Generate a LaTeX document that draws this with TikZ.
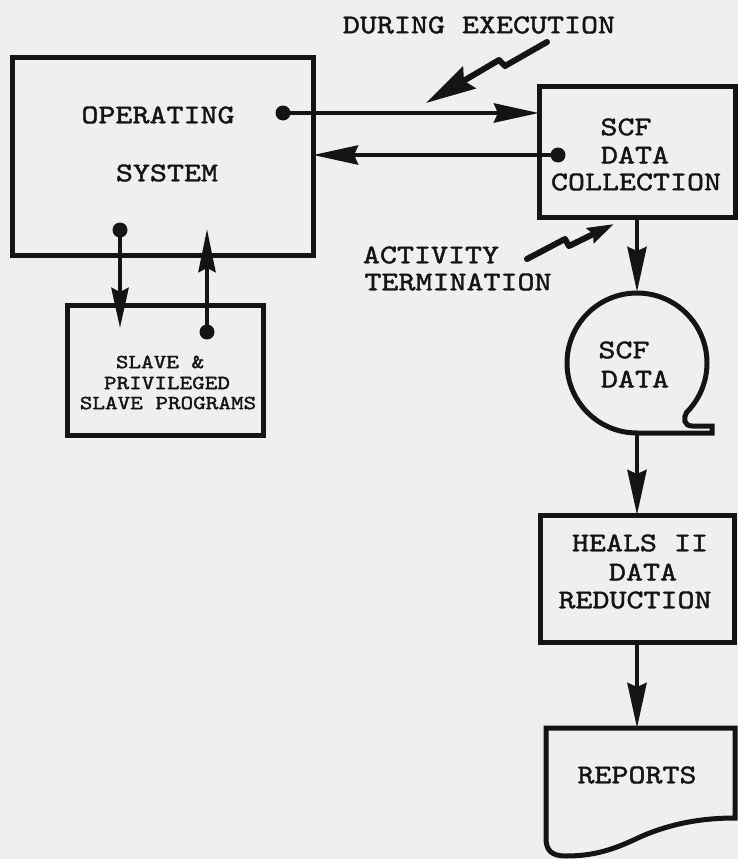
\documentclass[tikz,border=0pt]{standalone}
\usepackage{fontspec}
\setmonofont{lmmono10-regular.otf}[FakeStretch=1.2, FakeBold=1.5]
\usetikzlibrary{arrows.meta}
\definecolor{ink}{HTML}{141414}
\definecolor{paper}{HTML}{EFEFEF}
\tikzset{
  blk/.style={draw=ink, line width=5pt, inner sep=0pt, outer sep=0pt},
  conn/.style={draw=ink, line width=4.5pt},
  flowarrow/.style={conn, -{Stealth[length=45pt, width=19pt, inset=4pt]}},
  boltline/.style={draw=ink, line width=6pt, line join=round, line cap=round},
  pin/.style={circle, fill=ink, minimum size=15pt, inner sep=0pt, outer sep=0pt},
  lbl/.style={font=\ttfamily\fontsize{27}{27}\selectfont, text=ink, inner sep=0pt},
  smalllbl/.style={font=\ttfamily\fontsize{20}{20}\selectfont, text=ink, inner sep=0pt}
}
\begin{document}
\begin{tikzpicture}[x=1pt, y=-1pt]
  % page
  \fill[paper] (0,0) rectangle (738,859);
  \useasboundingbox (0,0) rectangle (738,859);

  % ---- blocks ----
  \node[blk, minimum width=301, minimum height=197] (os) at (162.5,156.5) {};
  \node[lbl] (osA) at (158,115) {OPERATING};
  \node[lbl] (osB) at (167,173) {SYSTEM};

  \node[blk, minimum width=196, minimum height=130] (slave) at (165,370) {};
  \node[smalllbl] (slA) at (160,362) {SLAVE \&};
  \node[smalllbl] (slB) at (167,383) {PRIVILEGED};
  \node[smalllbl] (slC) at (168,403) {SLAVE PROGRAMS};

  \node[blk, minimum width=196, minimum height=131] (scf) at (637,151.5) {};
  \node[lbl] (scfA) at (626,127) {SCF};
  \node[lbl] (scfB) at (635,155) {DATA};
  \node[lbl] (scfC) at (636,182) {COLLECTION};

  % magnetic tape symbol
  \coordinate (tapetop) at (637,292);
  \coordinate (tapebot) at (637,433);
  \draw[blk] (tapebot) arc[start angle=90, end angle=405, radius=70]
    .. controls (683,418) and (684,426) .. (692,426) -- (712,426) -- (712,433) -- cycle;
  \node[lbl] (tpA) at (624,350) {SCF};
  \node[lbl] (tpB) at (635,379) {DATA};

  \node[blk, minimum width=194, minimum height=127] (heals) at (637,578.5) {};
  \node[lbl] (hA) at (640,543) {HEALS II};
  \node[lbl] (hB) at (643,572) {DATA};
  \node[lbl] (hC) at (635,600) {REDUCTION};

  % document symbol
  \coordinate (reptop) at (637,728);
  \draw[blk] (546,728) -- (735,728) -- (735,818)
    .. controls (695,818) and (665,826) .. (640,837)
    .. controls (615,849) and (595,856) .. (566,856)
    .. controls (551,856) and (546,850) .. (546,838) -- cycle;
  \node[lbl] (rep) at (637,775) {REPORTS};

  % ---- connectors between OS and SCF collection ----
  \node[pin] (p1) at (283,113) {};
  \draw[flowarrow] (p1.center) -- (p1.center -| scf.west);
  \node[pin] (p2) at (558,155) {};
  \draw[flowarrow] (p2.center) -- (p2.center -| os.east);

  % ---- connectors between OS and slave programs ----
  \node[pin] (p3) at (120,230) {};
  \coordinate (t3) at (120,328);
  \draw[conn, -{Stealth[length=40pt, width=17pt, inset=4pt]}] (p3.center) -- (t3);
  \node[pin] (p4) at (207,332) {};
  \coordinate (t4) at (207,229);
  \draw[conn, -{Stealth[length=43pt, width=17pt, inset=4pt]}] (p4.center) -- (t4);

  % ---- main data flow ----
  \draw[flowarrow] (scf.south) -- (tapetop);
  \draw[flowarrow] (tapebot) -- (heals.north);
  \draw[flowarrow] (heals.south) -- (reptop);

  % ---- event labels with lightning arrows ----
  \node[lbl] (during) at (479,25) {DURING EXECUTION};
  \coordinate (b1s) at (547,42);
  \coordinate (b1e) at (426,103);
  \draw[boltline, -{Stealth[length=50pt, width=25pt, inset=6pt]}]
    (b1s) -- (505,66) -- (499,60) -- (b1e);

  \node[lbl] (actA) at (431,255) {ACTIVITY};
  \node[lbl] (actB) at (458,282) {TERMINATION};
  \coordinate (b2s) at (527,259);
  \coordinate (b2e) at (614,224);
  \draw[boltline, -{Stealth[length=26pt, width=16pt, inset=3pt]}]
    (b2s) -- (565,239) -- (569,246) -- (b2e);
\end{tikzpicture}
\end{document}
